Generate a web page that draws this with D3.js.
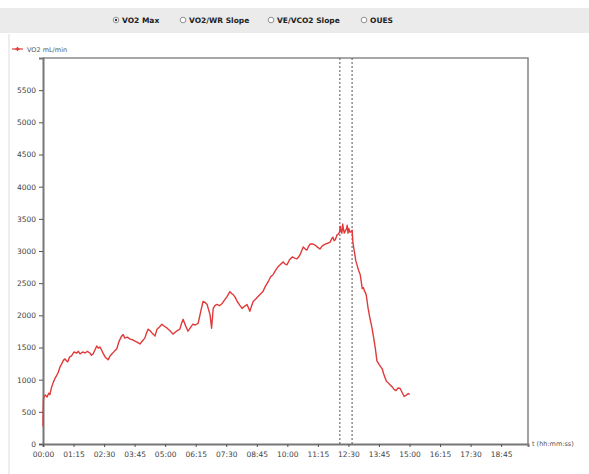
<!DOCTYPE html>
<html>
<head>
<meta charset="utf-8">
<script src="https://cdn.jsdelivr.net/npm/d3@7"></script>
<style>
  body { margin: 0; background: #fff; }
  svg { display: block; }
  text { font-family: "DejaVu Sans", Verdana, sans-serif; }
</style>
</head>
<body>
<script>
// Breath-averaged oxygen uptake during an incremental test
const timeSec = [0, 1, 2.5, 6, 10, 14, 17, 21, 25, 29, 33, 37, 42, 46, 50, 54, 58, 61, 65, 70,
  76, 83, 87, 91, 97, 103, 109, 115, 119, 123, 128, 132, 136, 140, 144, 147, 153, 160, 164, 169,
  175, 181, 187, 193, 197, 201, 207, 214, 220, 226, 232, 238, 244, 250, 254, 258, 263, 268, 272, 275,
  280, 286, 292, 298, 305, 312, 319, 327, 336, 340, 344, 350, 356, 362, 368, 374, 381, 387, 393, 398,
  403, 407, 410, 414, 418, 422, 427, 433, 440, 446, 452, 459, 463, 467, 472, 477, 483, 489, 495, 501,
  505, 508, 512, 516, 522, 528, 534, 540, 546, 553, 559, 565, 571, 577, 583, 590, 594, 599, 605, 612,
  618, 624, 631, 635, 639, 644, 648, 652, 656, 662, 668, 674, 680, 686, 693, 699, 705, 709, 712, 715,
  718, 722, 725, 728, 730, 732, 734, 736, 738, 740, 742, 745, 747, 749, 751, 754, 757, 759, 761, 763,
  766, 768, 771, 775, 779, 782, 784, 787, 789, 792, 794, 798, 803, 808, 812, 816, 820, 826, 833, 836,
  840, 843, 847, 852, 857, 862, 867, 872, 877, 882, 887, 892, 897, 901];
const vo2 = [277, 677, 738, 760, 730, 790, 769, 880, 954, 1015, 1060, 1108, 1200, 1246, 1300, 1323, 1290, 1277, 1350, 1369,
  1430, 1415, 1440, 1400, 1430, 1415, 1440, 1415, 1380, 1400, 1470, 1523, 1490, 1508, 1460, 1415, 1350, 1308, 1360, 1400,
  1440, 1477, 1600, 1677, 1700, 1646, 1660, 1631, 1620, 1600, 1580, 1554, 1600, 1646, 1720, 1785, 1760, 1723, 1700, 1677,
  1785, 1820, 1862, 1830, 1800, 1760, 1708, 1750, 1785, 1870, 1938, 1840, 1754, 1810, 1862, 1850, 1877, 2050, 2215, 2200,
  2169, 2080, 2015, 1800, 2108, 2150, 2169, 2150, 2185, 2240, 2292, 2369, 2340, 2323, 2280, 2215, 2160, 2108, 2140, 2169,
  2110, 2062, 2140, 2215, 2250, 2292, 2330, 2369, 2450, 2523, 2600, 2631, 2700, 2754, 2790, 2831, 2800, 2785, 2860, 2908,
  2890, 2877, 2938, 3000, 3062, 3030, 3015, 3070, 3108, 3110, 3092, 3060, 3031, 3080, 3108, 3120, 3138, 3190, 3215, 3160,
  3180, 3250, 3262, 3290, 3385, 3300, 3277, 3420, 3330, 3280, 3308, 3340, 3400, 3277, 3350, 3292, 3300, 3323, 3138, 3050,
  2938, 2850, 2785, 2700, 2631, 2500, 2415, 2430, 2385, 2350, 2308, 2123, 1950, 1800, 1650, 1492, 1292, 1230, 1169, 1100,
  1031, 980, 954, 920, 892, 850, 831, 870, 862, 800, 738, 760, 785, 769];

// Threshold markers (seconds)
const markers = [729, 759];

const yTicks = [0, 500, 1000, 1500, 2000, 2500, 3000, 3500, 4000, 4500, 5000, 5500];
const xTicks = [0, 75, 150, 225, 300, 375, 450, 525, 600, 675, 750, 825, 900, 975, 1050, 1125];

const tabs = ["VO2 Max", "VO2/WR Slope", "VE/VCO2 Slope", "OUES"];
const tabX = [116, 183, 271, 364];
const legendLabel = "VO2 mL/min";
const xAxisLabel = "t (hh:mm:ss)";

const W = 589, H = 474;
const svg = d3.select("body").append("svg").attr("width", W).attr("height", H);
svg.append("rect").attr("width", W).attr("height", H).attr("fill", "#fff");

// option bar
svg.append("rect").attr("x", 0).attr("y", 8).attr("width", W).attr("height", 25).attr("fill", "#ebebeb");
const tabG = svg.append("g");
tabs.forEach((t, i) => {
  const g = tabG.append("g").attr("transform", `translate(${tabX[i]},20)`);
  g.append("circle").attr("r", 2.8).attr("fill", "#fff").attr("stroke", "#777").attr("stroke-width", 0.8);
  if (i === 0) g.append("circle").attr("r", 1.2).attr("fill", "#333");
  g.append("text").attr("x", 6).attr("y", 3).attr("font-size", 7.5).attr("font-weight", "bold")
    .attr("fill", "#222").text(t);
});

// faint frame edge at left
svg.append("line").attr("x1", 9).attr("x2", 9).attr("y1", 34).attr("y2", 474)
  .attr("stroke", "#ddd").attr("stroke-width", 1);

// legend
const lg = svg.append("g").attr("transform", "translate(12,49)");
lg.append("line").attr("x1", 0).attr("x2", 11).attr("stroke", "#e03a3a").attr("stroke-width", 1.2);
lg.append("path").attr("d", d3.symbol(d3.symbolCross, 10)()).attr("transform", "translate(5.5,0)").attr("fill", "#e03a3a");
lg.append("text").attr("x", 15).attr("y", 2.5).attr("font-size", 6.5).attr("fill", "#555").text(legendLabel);

const plotL = 43, plotR = 528, plotT = 58, plotB = 444;
const x = d3.scaleLinear().domain([0, 1191]).range([plotL, plotR]);
const y = d3.scaleLinear().domain([0, 6000]).range([plotB, plotT]);

// plot border (top/right)
svg.append("path").attr("d", `M${plotL},${plotT}H${plotR}V${plotB}`)
  .attr("fill", "none").attr("stroke", "#8a8a8a").attr("stroke-width", 1.6);

const fmt = s => {
  const m = Math.floor(s / 60), sec = s % 60;
  return String(m).padStart(2, "0") + ":" + String(sec).padStart(2, "0");
};

const yAxis = svg.append("g").attr("transform", `translate(${plotL},0)`)
  .call(d3.axisLeft(y).tickValues(yTicks).tickSize(4).tickPadding(3).tickFormat(d3.format("d")));
const xAxis = svg.append("g").attr("transform", `translate(0,${plotB})`)
  .call(d3.axisBottom(x).tickValues(xTicks).tickSize(3).tickPadding(5).tickFormat(fmt));
[yAxis, xAxis].forEach(a => {
  a.select(".domain").attr("stroke", "#777").attr("stroke-width", 2);
  a.selectAll(".tick line").attr("stroke", "#555");
  a.selectAll(".tick text").attr("fill", "#444").attr("font-size", 7.5)
    .attr("font-family", "DejaVu Sans, sans-serif");
});

svg.append("text").attr("x", plotR + 4).attr("y", plotB + 2).attr("font-size", 6.5)
  .attr("fill", "#555").text(xAxisLabel);

// threshold markers
svg.append("g").selectAll("line").data(markers).join("line")
  .attr("x1", d => x(d)).attr("x2", d => x(d))
  .attr("y1", plotT).attr("y2", plotB)
  .attr("stroke", "#555").attr("stroke-width", 1).attr("stroke-dasharray", "2,2");

// VO2 trace
const pts = timeSec.map((t, i) => [t, vo2[i]]);
svg.append("path").datum(pts)
  .attr("fill", "none").attr("stroke", "#e03a3a").attr("stroke-width", 1.4)
  .attr("stroke-linejoin", "round")
  .attr("d", d3.line().x(d => x(d[0])).y(d => y(d[1])));
</script>
</body>
</html>
